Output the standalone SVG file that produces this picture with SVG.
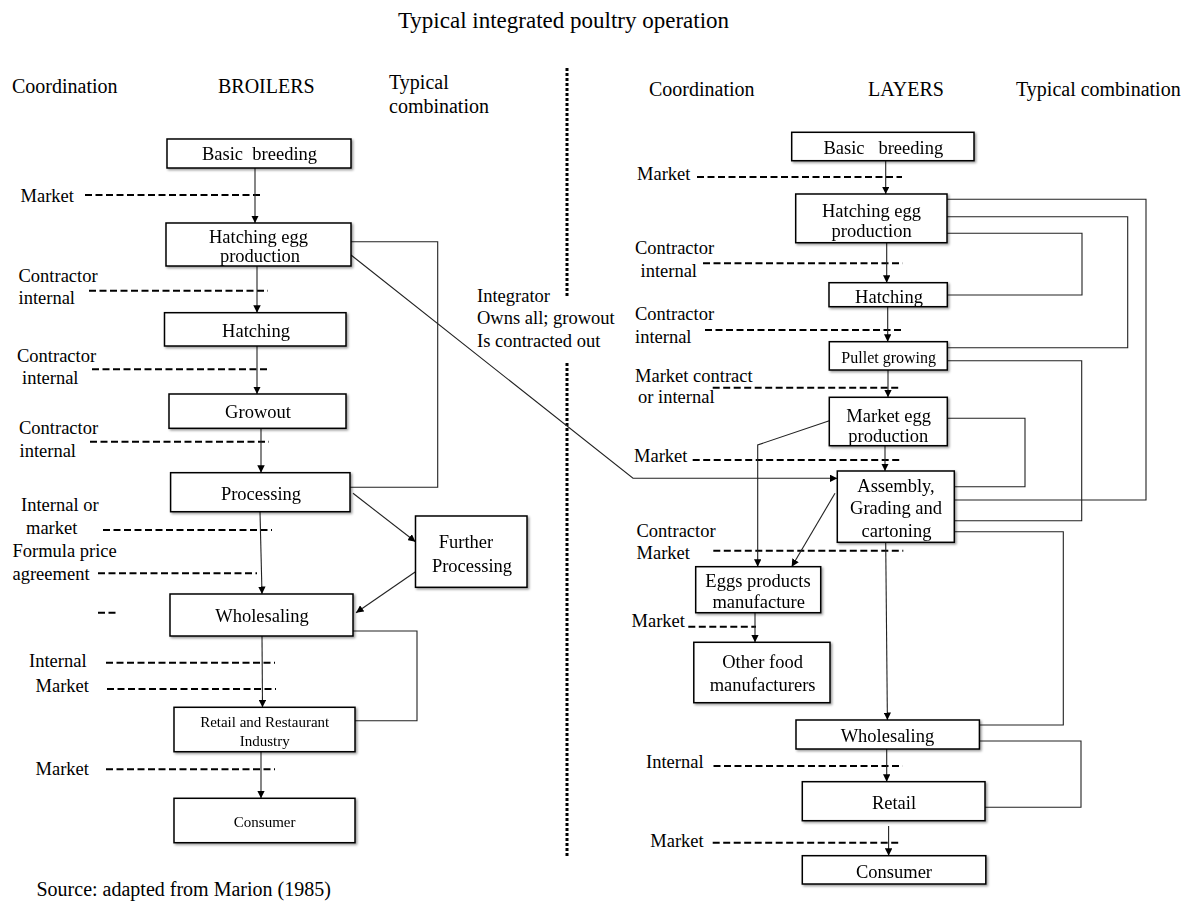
<svg xmlns="http://www.w3.org/2000/svg" width="1193" height="902" viewBox="0 0 1193 902">
  <style>
    text { font-family: "Liberation Serif", "Times New Roman", serif; fill: #000; }
    .hdr { font-size: 20px; }
    .ttl { font-size: 23px; }
    .lbl { font-size: 18.5px; }
    .box text { font-size: 18.5px; text-anchor: middle; }
    .box text.sm { font-size: 15px; }
    .box text.md { font-size: 16px; }
    .box rect { fill: #fff; stroke: #000; stroke-width: 1.5; }
    .box { filter: url(#shadow); }
    .dash { stroke: #000; stroke-width: 2; stroke-dasharray: 7 3.5; fill: none; }
    .link { stroke: #222; stroke-width: 1.1; fill: none; }
    .arrow { stroke: #222; stroke-width: 1.1; fill: none; marker-end: url(#head); }
    .divider { stroke: #000; stroke-width: 3; stroke-dasharray: 3 2; }
  </style>
  <defs>
    <marker id="head" viewBox="0 0 10 10" refX="10" refY="5" markerWidth="7.5" markerHeight="7.5" markerUnits="userSpaceOnUse" orient="auto">
      <path d="M0,0 L10,5 L0,10 z" fill="#000"/>
    </marker>
    <filter id="shadow" x="-10%" y="-10%" width="120%" height="130%">
      <feDropShadow dx="1.5" dy="1.5" stdDeviation="0.8" flood-color="#000" flood-opacity="0.4"/>
    </filter>
  </defs>

  <rect width="1193" height="902" fill="#fff"/>

  <!-- title, column headers and source -->
  <g id="headings">
    <text class="ttl" x="563.5" y="28" text-anchor="middle">Typical integrated poultry operation</text>
    <text class="hdr" x="12" y="93">Coordination</text>
    <text class="hdr" x="218" y="93">BROILERS</text>
    <text class="hdr" x="389" y="89">Typical</text>
    <text class="hdr" x="389" y="113">combination</text>
    <text class="hdr" x="649" y="96">Coordination</text>
    <text class="hdr" x="868" y="96">LAYERS</text>
    <text class="hdr" x="1016" y="96">Typical combination</text>
    <text class="hdr" x="36.5" y="896">Source: adapted from Marion (1985)</text>
  </g>

  <!-- dotted separator between the two chains -->
  <g id="separator">
    <line class="divider" x1="567" y1="68" x2="567" y2="298"/>
    <line class="divider" x1="567" y1="363" x2="567" y2="858"/>
  </g>

  <g id="integrator-note" class="lbl">
    <text class="lbl" x="477" y="302">Integrator</text>
    <text class="lbl" x="477" y="324">Owns all; growout</text>
    <text class="lbl" x="477" y="346.5">Is contracted out</text>
  </g>

  <!-- coordination labels, broiler side -->
  <g id="broiler-coordination">
    <text class="lbl" x="20.5" y="202">Market</text>
    <line class="dash" x1="85" y1="195" x2="263" y2="195"/>
    <text class="lbl" x="18.5" y="282">Contractor</text>
    <text class="lbl" x="18.5" y="303.5">internal</text>
    <line class="dash" x1="89" y1="290.7" x2="268" y2="290.7"/>
    <text class="lbl" x="17" y="361.5">Contractor</text>
    <text class="lbl" x="22" y="383.5">internal</text>
    <line class="dash" x1="92" y1="369.3" x2="270" y2="369.3"/>
    <text class="lbl" x="19" y="433.5">Contractor</text>
    <text class="lbl" x="19.5" y="456.5">internal</text>
    <line class="dash" x1="90" y1="441.7" x2="269" y2="441.7"/>
    <text class="lbl" x="21" y="510.5">Internal or</text>
    <text class="lbl" x="26" y="534">market</text>
    <line class="dash" x1="103" y1="530" x2="272" y2="530"/>
    <text class="lbl" x="12.5" y="556.5">Formula price</text>
    <text class="lbl" x="12.5" y="580">agreement</text>
    <line class="dash" x1="98" y1="573.3" x2="257" y2="573.3"/>
    <line class="dash" x1="98" y1="612.7" x2="115.5" y2="612.7"/>
    <text class="lbl" x="29" y="666.5">Internal</text>
    <line class="dash" x1="106" y1="662.7" x2="275" y2="662.7"/>
    <text class="lbl" x="35.5" y="691.5">Market</text>
    <line class="dash" x1="107" y1="689" x2="276" y2="689"/>
    <text class="lbl" x="35.5" y="775">Market</text>
    <line class="dash" x1="106" y1="769.3" x2="275" y2="769.3"/>
  </g>

  <!-- coordination labels, layer side -->
  <g id="layer-coordination">
    <text class="lbl" x="637" y="180">Market</text>
    <line class="dash" x1="697" y1="177" x2="902" y2="177"/>
    <text class="lbl" x="635" y="254">Contractor</text>
    <text class="lbl" x="640.5" y="276.5">internal</text>
    <line class="dash" x1="703" y1="263.3" x2="902.7" y2="263.3"/>
    <text class="lbl" x="635" y="320">Contractor</text>
    <text class="lbl" x="635" y="342.5">internal</text>
    <line class="dash" x1="705" y1="330" x2="904" y2="330"/>
    <text class="lbl" x="635" y="381.5">Market contract</text>
    <text class="lbl" x="638" y="403">or internal</text>
    <line class="dash" x1="712.7" y1="387.7" x2="901.7" y2="387.7"/>
    <text class="lbl" x="634" y="461.5">Market</text>
    <line class="dash" x1="692.7" y1="460" x2="902.7" y2="460"/>
    <text class="lbl" x="636.5" y="536.5">Contractor</text>
    <text class="lbl" x="636.5" y="559.3">Market</text>
    <line class="dash" x1="713.3" y1="550.7" x2="903.3" y2="550.7"/>
    <text class="lbl" x="631.5" y="627.3">Market</text>
    <line class="dash" x1="688.3" y1="626.7" x2="756" y2="626.7"/>
    <text class="lbl" x="646" y="768.3">Internal</text>
    <line class="dash" x1="713.5" y1="766" x2="902.6" y2="766"/>
    <text class="lbl" x="650.3" y="846.7">Market</text>
    <line class="dash" x1="712.7" y1="842.7" x2="901.4" y2="842.7"/>
  </g>

  <!-- connectors -->
  <g id="connectors">
    <!-- broiler chain -->
    <line class="arrow" x1="255" y1="168" x2="255" y2="223"/>
    <line class="arrow" x1="257" y1="266" x2="257" y2="312.7"/>
    <line class="arrow" x1="257" y1="346" x2="257" y2="394"/>
    <line class="arrow" x1="261" y1="428.3" x2="261" y2="472.7"/>
    <line class="arrow" x1="260" y1="511.7" x2="262" y2="594"/>
    <line class="arrow" x1="262" y1="636" x2="262.5" y2="707.3"/>
    <line class="arrow" x1="261" y1="751.7" x2="261" y2="798.3"/>
    <line class="arrow" x1="353" y1="493.3" x2="415.5" y2="541.7"/>
    <line class="arrow" x1="415.5" y1="571.7" x2="356" y2="612.7"/>
    <polyline class="link" points="351,241.7 437.7,241.7 437.7,487.3 350,487.3"/>
    <polyline class="link" points="353,631 417,631 417,720.7 355,720.7"/>
    <!-- hatching egg production to assembly across the separator -->
    <polyline class="arrow" points="351,255 633,478.3 837.3,478.3"/>

    <!-- layer chain -->
    <line class="arrow" x1="885.7" y1="160.7" x2="885.7" y2="194"/>
    <line class="arrow" x1="886.7" y1="242.7" x2="886.7" y2="282.7"/>
    <line class="arrow" x1="887.7" y1="306.7" x2="887.7" y2="341.7"/>
    <line class="arrow" x1="888" y1="370" x2="888" y2="397.3"/>
    <line class="arrow" x1="885" y1="445.7" x2="885" y2="471"/>
    <polyline class="arrow" points="829.3,420.7 757.7,445 757.7,566.7"/>
    <line class="arrow" x1="835" y1="493.3" x2="791.7" y2="566.7"/>
    <line class="arrow" x1="885.7" y1="542.3" x2="887.4" y2="720"/>
    <line class="arrow" x1="755" y1="612.7" x2="755" y2="642.3"/>
    <line class="arrow" x1="886.7" y1="749" x2="886.7" y2="781.7"/>
    <line class="arrow" x1="888.6" y1="826" x2="888.6" y2="855.7"/>
    <polyline class="link" points="947,199.3 1146,199.3 1146,500 954.3,500"/>
    <polyline class="link" points="947,216.7 1127.7,216.7 1127.7,347.7 947.3,347.7"/>
    <polyline class="link" points="947,233.3 1082,233.3 1082,295 947.3,295"/>
    <polyline class="link" points="947.3,360.7 1081.7,360.7 1081.7,520.7 954.3,520.7"/>
    <polyline class="link" points="947.3,418.3 1025,418.3 1025,486.7 954.3,486.7"/>
    <polyline class="link" points="954.3,531.7 1063.3,531.7 1063.3,725 979.4,725"/>
    <polyline class="link" points="979.4,741 1081,741 1081,807.3 985,807.3"/>
  </g>

  <!-- broiler nodes -->
  <g id="b-basic-breeding" class="box">
    <rect x="167" y="139" width="184" height="29"/>
    <text x="259.5" y="160" xml:space="preserve">Basic  breeding</text>
  </g>
  <g id="b-hatching-egg" class="box">
    <rect x="166" y="223" width="185" height="43"/>
    <text x="258.5" y="243">Hatching egg</text>
    <text x="260" y="261.7">production</text>
  </g>
  <g id="b-hatching" class="box">
    <rect x="164.5" y="312.7" width="181.5" height="33.3"/>
    <text x="256" y="336.7">Hatching</text>
  </g>
  <g id="b-growout" class="box">
    <rect x="169" y="394" width="177" height="34.3"/>
    <text x="258" y="418.3">Growout</text>
  </g>
  <g id="b-processing" class="box">
    <rect x="170.6" y="472.7" width="179.4" height="39"/>
    <text x="261" y="500">Processing</text>
  </g>
  <g id="b-further-processing" class="box">
    <rect x="415.5" y="516" width="111.5" height="71.3"/>
    <text x="466" y="548.3">Further</text>
    <text x="472" y="571.7">Processing</text>
  </g>
  <g id="b-wholesaling" class="box">
    <rect x="170" y="594" width="183" height="42"/>
    <text x="262" y="621.7">Wholesaling</text>
  </g>
  <g id="b-retail" class="box">
    <rect x="174" y="707.3" width="181" height="44.4"/>
    <text class="sm" x="264.7" y="726.7">Retail and Restaurant</text>
    <text class="sm" x="264.7" y="745.7">Industry</text>
  </g>
  <g id="b-consumer" class="box">
    <rect x="174" y="798.3" width="181" height="44.4"/>
    <text class="sm" x="264.7" y="827.3">Consumer</text>
  </g>

  <!-- layer nodes -->
  <g id="l-basic-breeding" class="box">
    <rect x="791.7" y="132.3" width="182.3" height="28.4"/>
    <text x="883.3" y="154" xml:space="preserve">Basic   breeding</text>
  </g>
  <g id="l-hatching-egg" class="box">
    <rect x="795.7" y="194" width="151.3" height="48.7"/>
    <text x="871.5" y="216.7">Hatching egg</text>
    <text x="871.7" y="237">production</text>
  </g>
  <g id="l-hatching" class="box">
    <rect x="829" y="282.7" width="118.3" height="24"/>
    <text x="889" y="303">Hatching</text>
  </g>
  <g id="l-pullet" class="box">
    <rect x="829.3" y="341.7" width="118" height="28.3"/>
    <text class="md" x="888.7" y="362.7">Pullet growing</text>
  </g>
  <g id="l-market-egg" class="box">
    <rect x="829.3" y="397.3" width="118" height="48.4"/>
    <text x="888.7" y="421.7">Market egg</text>
    <text x="888.3" y="441.7">production</text>
  </g>
  <g id="l-assembly" class="box">
    <rect x="837.3" y="471" width="117" height="71.3"/>
    <text x="896" y="491.7">Assembly,</text>
    <text x="896" y="514">Grading and</text>
    <text x="896.5" y="536.7">cartoning</text>
  </g>
  <g id="l-egg-products" class="box">
    <rect x="695.7" y="566.7" width="125" height="46"/>
    <text x="758" y="586.7">Eggs products</text>
    <text x="758.7" y="608.3">manufacture</text>
  </g>
  <g id="l-other-food" class="box">
    <rect x="693.8" y="642.3" width="136.2" height="60.4"/>
    <text x="762.6" y="668.3">Other food</text>
    <text x="762.6" y="690.7">manufacturers</text>
  </g>
  <g id="l-wholesaling" class="box">
    <rect x="796" y="720" width="183.4" height="29"/>
    <text x="887.4" y="741.7">Wholesaling</text>
  </g>
  <g id="l-retail" class="box">
    <rect x="802.3" y="781.7" width="182.7" height="39"/>
    <text x="894" y="809.3">Retail</text>
  </g>
  <g id="l-consumer" class="box">
    <rect x="802.3" y="855.7" width="183.5" height="28.3"/>
    <text x="894" y="878.3">Consumer</text>
  </g>
</svg>
